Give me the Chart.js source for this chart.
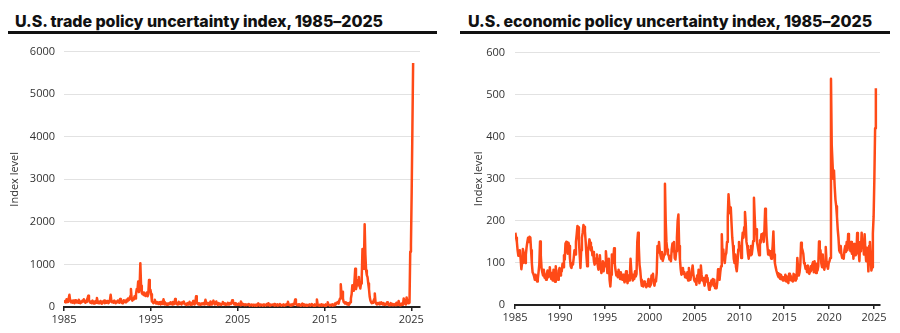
<!DOCTYPE html>
<html>
<head>
<meta charset="utf-8">
<script src="https://cdn.jsdelivr.net/npm/chart.js@4.4.0/dist/chart.umd.min.js"></script>
<style>
  body { margin: 0; background: #fff; width: 900px; height: 333px; overflow: hidden; position: relative; }
  .title { position: absolute; top: 11px; font: 800 16px Inter, sans-serif; letter-spacing: -0.05px; color: #111; white-space: nowrap; }
  .rule { position: absolute; top: 31px; height: 3px; background: #111; }
  canvas { position: absolute; top: 36px; }
</style>
</head>
<body>
<div class="title" style="left:15px">U.S. trade policy uncertainty index, 1985–2025</div>
<div class="rule" style="left:8px;width:429px"></div>
<canvas id="tpu" width="440" height="297" style="left:0"></canvas>

<div class="title" style="left:468px">U.S. economic policy uncertainty index, 1985–2025</div>
<div class="rule" style="left:460px;width:430px"></div>
<canvas id="epu" width="450" height="297" style="left:450px"></canvas>

<script>
// monthly series, January 1985 onward, one row per year
const startYear = 1985;

const tradePolicy = [
  90, 140, 110, 180, 120, 150, 200, 287, 150, 110, 130, 100,   // 1985
  150, 120, 90, 160, 130, 110, 140, 100, 170, 120, 90, 130,    // 1986
  110, 150, 130, 180, 140, 100, 120, 150, 200, 263, 160, 120,  // 1987
  100, 130, 90, 150, 110, 80, 120, 140, 100, 210, 130, 90,     // 1988
  120, 90, 140, 100, 80, 130, 110, 150, 90, 120, 100, 140,     // 1989
  110, 90, 130, 160, 287, 140, 110, 130, 100, 150, 120, 90,    // 1990
  130, 110, 150, 120, 100, 190, 140, 110, 90, 130, 160, 120,   // 1991
  140, 110, 170, 130, 200, 160, 180, 250, 420, 200, 150, 190,  // 1992
  180, 250, 200, 300, 420, 380, 597, 350, 450, 1030, 500, 330, // 1993
  300, 340, 280, 320, 260, 300, 340, 250, 300, 635, 420, 403,  // 1994
  300, 130, 120, 90, 110, 170, 100, 80, 120, 90, 70, 110,      // 1995
  90, 60, 120, 80, 70, 180, 110, 60, 90, 70, 50, 80,           // 1996
  60, 90, 70, 110, 80, 60, 120, 90, 70, 186, 100, 80,          // 1997
  60, 90, 120, 70, 100, 80, 60, 110, 90, 130, 80, 60,          // 1998
  70, 50, 90, 60, 80, 120, 70, 50, 90, 60, 140, 80,            // 1999
  60, 90, 250, 120, 80, 60, 90, 70, 50, 80, 60, 70,            // 2000
  90, 60, 80, 170, 100, 70, 60, 90, 50, 80, 130, 60,           // 2001
  70, 100, 150, 90, 60, 80, 130, 70, 50, 90, 60, 80,           // 2002
  60, 50, 80, 120, 70, 60, 90, 50, 70, 60, 100, 80,            // 2003
  60, 90, 70, 100, 160, 120, 80, 60, 90, 50, 70, 60,           // 2004
  50, 80, 60, 40, 130, 90, 60, 50, 70, 40, 60, 50,             // 2005
  40, 60, 50, 70, 30, 50, 40, 60, 30, 50, 40, 30,              // 2006
  50, 30, 60, 40, 85, 50, 30, 60, 40, 50, 30, 60,              // 2007
  40, 60, 30, 50, 70, 40, 90, 50, 30, 60, 40, 50,              // 2008
  60, 40, 70, 30, 50, 40, 60, 30, 50, 40, 70, 40,              // 2009
  30, 50, 40, 60, 30, 50, 40, 70, 50, 124, 60, 40,             // 2010
  50, 30, 60, 40, 70, 50, 90, 178, 80, 50, 40, 60,             // 2011
  40, 60, 30, 50, 40, 80, 50, 30, 60, 40, 30, 50,              // 2012
  30, 50, 40, 60, 30, 40, 70, 50, 30, 40, 60, 30,              // 2013
  40, 178, 60, 40, 30, 50, 40, 60, 30, 40, 50, 30,             // 2014
  40, 60, 30, 50, 110, 60, 40, 30, 50, 40, 60, 30,             // 2015
  50, 40, 80, 60, 100, 90, 120, 80, 150, 200, 535, 300,        // 2016
  356, 200, 120, 100, 80, 110, 70, 60, 90, 50, 70, 110,        // 2017
  200, 300, 511, 450, 380, 620, 900, 420, 500, 628, 510, 705,  // 2018
  500, 434, 550, 700, 1364, 900, 1000, 1945, 1240, 860, 750, 700, // 2019
  550, 420, 240, 150, 110, 90, 124, 100, 180, 318, 120, 80,    // 2020
  60, 90, 70, 100, 60, 80, 110, 70, 60, 90, 50, 70,            // 2021
  50, 80, 110, 60, 70, 40, 60, 90, 50, 70, 40, 60,             // 2022
  50, 70, 40, 100, 60, 50, 140, 70, 40, 60, 80, 50,            // 2023
  60, 200, 100, 80, 60, 225, 120, 90, 170, 100, 1300, 1450,    // 2024
  2700, 4200, 5730                                             // 2025
];

const economicPolicy = [
  172, 160, 150, 130, 117, 125, 130, 110, 85, 100, 133, 125,   // 1985
  105, 100, 120, 137, 150, 160, 150, 162, 160, 130, 100, 78,   // 1986
  74, 68, 60, 72, 66, 56, 62, 78, 96, 151, 118, 88,            // 1987
  78, 70, 84, 65, 72, 60, 74, 82, 66, 78, 90, 70,              // 1988
  62, 76, 58, 84, 70, 55, 92, 66, 74, 60, 82, 88,              // 1989
  70, 86, 80, 98, 90, 118, 108, 146, 150, 140, 122, 148,       // 1990
  140, 110, 92, 88, 100, 96, 112, 130, 120, 150, 168, 188,     // 1991
  185, 150, 120, 88, 130, 160, 172, 190, 186, 176, 150, 118,   // 1992
  92, 128, 140, 156, 148, 130, 138, 118, 126, 104, 96, 110,    // 1993
  100, 120, 96, 84, 110, 118, 90, 76, 96, 104, 80, 100,        // 1994
  92, 128, 106, 76, 92, 110, 60, 44, 72, 120, 100, 110,        // 1995
  135, 96, 82, 70, 78, 66, 84, 72, 62, 78, 66, 60,             // 1996
  72, 60, 54, 66, 80, 60, 52, 70, 58, 64, 110, 80,             // 1997
  66, 58, 72, 62, 80, 68, 74, 150, 172, 140, 96, 82,           // 1998
  60, 46, 52, 44, 56, 48, 50, 42, 46, 54, 62, 44,              // 1999
  52, 48, 70, 62, 74, 52, 46, 60, 56, 76, 140, 125,            // 2000
  150, 130, 118, 110, 126, 105, 112, 120, 288, 200, 150, 132,  // 2001
  120, 118, 108, 115, 104, 132, 146, 128, 150, 112, 108, 128,  // 2002
  160, 200, 215, 140, 110, 86, 72, 82, 88, 74, 78, 66,         // 2003
  72, 64, 78, 58, 88, 70, 60, 72, 80, 94, 74, 60,              // 2004
  56, 62, 48, 70, 58, 84, 52, 60, 94, 72, 58, 64,              // 2005
  54, 46, 60, 70, 56, 64, 48, 36, 52, 44, 58, 50,              // 2006
  62, 46, 60, 40, 48, 40, 55, 85, 70, 60, 78, 92,              // 2007
  168, 120, 132, 110, 100, 118, 124, 150, 210, 263, 238, 218,  // 2008
  232, 195, 160, 140, 110, 100, 120, 90, 80, 100, 132, 150,    // 2009
  130, 140, 112, 150, 172, 160, 185, 221, 195, 150, 140, 122,  // 2010
  110, 130, 118, 140, 120, 134, 152, 255, 210, 170, 180, 150,  // 2011
  140, 128, 118, 154, 148, 168, 160, 170, 150, 178, 229, 210,  // 2012
  162, 140, 120, 130, 118, 128, 110, 120, 140, 175, 120, 100,  // 2013
  90, 82, 76, 70, 66, 74, 62, 72, 68, 60, 58, 66,              // 2014
  60, 72, 56, 68, 64, 52, 74, 60, 70, 58, 62, 56,              // 2015
  74, 66, 58, 72, 62, 112, 88, 70, 78, 96, 148, 136,           // 2016
  130, 122, 100, 96, 86, 92, 78, 94, 84, 74, 80, 92,           // 2017
  84, 96, 102, 78, 104, 88, 76, 98, 82, 92, 151, 112,          // 2018
  130, 100, 90, 120, 96, 84, 94, 138, 104, 92, 86, 100,        // 2019
  104, 112, 538, 380, 340, 300, 320, 280, 250, 235, 210, 180,  // 2020
  160, 130, 125, 140, 120, 112, 118, 110, 130, 140, 126, 150,  // 2021
  130, 169, 155, 140, 128, 150, 122, 138, 110, 145, 130, 118,  // 2022
  122, 171, 140, 130, 104, 150, 128, 172, 138, 150, 120, 168,  // 2023
  130, 104, 136, 124, 80, 140, 150, 115, 82, 90, 170, 210,     // 2024
  300, 420, 515                                                // 2025
];

const tradeYearTicks = [1985, 1995, 2005, 2015, 2025];
const econYearTicks = [1985, 1990, 1995, 2000, 2005, 2010, 2015, 2020, 2025];
const tradeLevelTicks = [0, 1000, 2000, 3000, 4000, 5000, 6000];
const econLevelTicks = [0, 100, 200, 300, 400, 500, 600];

const lineColor = '#ff4a17';
const tickFont = { family: 'Open Sans', size: 11 };

// mid-month x positions on a fractional-year axis
function toPoints(values) {
  return values.map((v, i) => ({ x: startYear + (i + 0.5) / 12, y: v }));
}

function drawPanel(id, values, s) {
  return new Chart(document.getElementById(id), {
    type: 'line',
    data: {
      datasets: [{
        data: toPoints(values),
        borderColor: lineColor,
        borderWidth: 2.5,
        borderJoinStyle: 'round',
        pointRadius: 0,
        tension: 0,
        fill: false
      }]
    },
    options: {
      responsive: false,
      animation: false,
      events: [],
      layout: { padding: { top: s.padTop, right: 20, bottom: 0, left: 0 } },
      plugins: { legend: { display: false }, tooltip: { enabled: false } },
      scales: {
        x: {
          type: 'linear',
          min: startYear,
          max: s.xMax,
          afterFit: sc => { sc.height = s.xHeight; },
          afterBuildTicks: sc => { sc.ticks = s.xTicks.map(v => ({ value: v })); },
          ticks: {
            padding: 2, color: '#333', font: tickFont,
            maxRotation: 0, autoSkip: false,
            callback: v => String(v)
          },
          grid: { drawOnChartArea: false, drawTicks: true, tickLength: 4, color: '#222', lineWidth: 1.5 },
          border: { display: true, color: '#222', width: 2 }
        },
        y: {
          min: 0,
          max: s.yTicks[s.yTicks.length - 1],
          afterFit: sc => { sc.width = s.yWidth; },
          afterBuildTicks: sc => { sc.ticks = s.yTicks.map(v => ({ value: v })); },
          ticks: { padding: s.yPad, color: '#333', font: tickFont, callback: v => String(v) },
          grid: { color: '#e2e2e2', lineWidth: 1, drawTicks: false },
          border: { display: false },
          title: {
            display: true, text: 'Index level', color: '#333',
            font: { family: 'Open Sans', size: 11 },
            padding: { top: s.titlePad, bottom: 0 }
          }
        }
      }
    }
  });
}

drawPanel('tpu', tradePolicy, {
  padTop: 13, xHeight: 26, xMax: 2026, xTicks: tradeYearTicks,
  yTicks: tradeLevelTicks, yWidth: 64, yPad: 9, titlePad: 8
});

drawPanel('epu', economicPolicy, {
  padTop: 14, xHeight: 28, xMax: 2025.67, xTicks: econYearTicks,
  yTicks: econLevelTicks, yWidth: 65, yPad: 10, titlePad: 22
});
</script>
</body>
</html>
